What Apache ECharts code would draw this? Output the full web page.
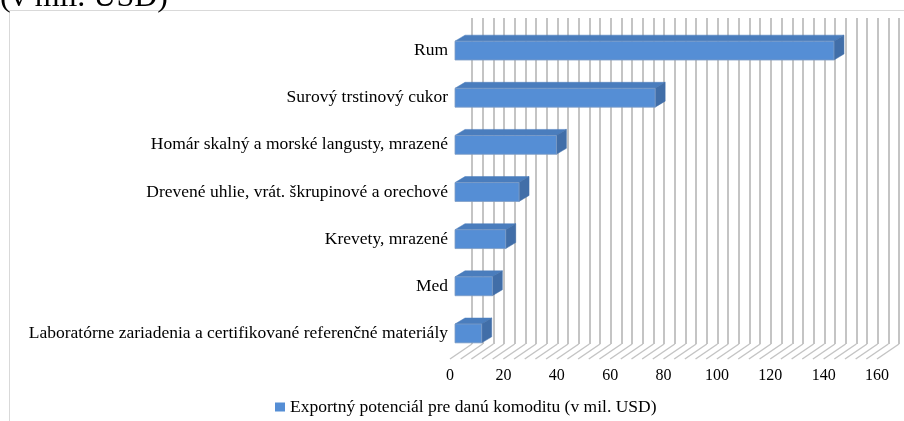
<!DOCTYPE html>
<html>
<head>
<meta charset="utf-8">
<script src="https://cdn.jsdelivr.net/npm/echarts@6/dist/echarts.min.js"></script>
<style>
  html, body { margin: 0; padding: 0; background: #fff; }
  #chart { width: 904px; height: 421px; }
</style>
</head>
<body>
<div id="chart"></div>
<script>
// ============ Exportný potenciál ============
const categories = [
  'Rum',
  'Surový trstinový cukor',
  'Homár skalný a morské langusty, mrazené',
  'Drevené uhlie, vrát. škrupinové a orechové',
  'Krevety, mrazené',
  'Med',
  'Laboratórne zariadenia a certifikované referenčné materiály'
];
const values = [142, 75, 38, 24, 19, 14, 10];
const seriesName = 'Exportný potenciál pre danú komoditu (v mil. USD)';
const axisMax = 160;
const majorStep = 20;
const minorStep = 4;

const FONT = '"Liberation Serif", "Times New Roman", serif';
const gridColor = '#c4c4c4';
const wallDepth = [22, -15];   // posun zadnej steny voči prednej hrane podlahy
const barDepth = [10, -6];     // hĺbka 3D stĺpca

const chart = echarts.init(document.getElementById('chart'));

function renderFloor(params, api) {
  const children = [];
  for (let v = 0; v <= axisMax; v += minorStep) {
    const p = api.coord([v, 0]);
    children.push({
      type: 'line',
      shape: { x1: p[0], y1: p[1], x2: p[0] + wallDepth[0], y2: p[1] + wallDepth[1] },
      style: { stroke: gridColor, lineWidth: 1.5 }
    });
  }
  return { type: 'group', children: children, silent: true };
}

function renderBar(params, api) {
  const idx = api.value(1);
  const p0 = api.coord([0, idx]);
  const p1 = api.coord([api.value(0), idx]);
  const h = api.size([0, 1])[1] * 0.4;
  const x0 = p0[0], x1 = p1[0];
  const yT = p0[1] - h / 2, yB = p0[1] + h / 2;
  const dx = barDepth[0], dy = barDepth[1];
  return {
    type: 'group',
    children: [
      { type: 'polygon', shape: { points: [[x0, yT], [x0 + dx, yT + dy], [x1 + dx, yT + dy], [x1, yT]] },
        style: { fill: '#4a7dbd', stroke: '#4a7dbd', lineWidth: 0.5 } },
      { type: 'polygon', shape: { points: [[x1, yT], [x1 + dx, yT + dy], [x1 + dx, yB + dy], [x1, yB]] },
        style: { fill: '#416ea8', stroke: '#416ea8', lineWidth: 0.5 } },
      { type: 'rect', shape: { x: x0, y: yT, width: x1 - x0, height: h },
        style: { fill: '#558ed5', stroke: '#7d9cc4', lineWidth: 0.8 } }
    ]
  };
}

chart.setOption({
  animation: false,
  title: {
    text: '(v mil. USD)', left: 0, top: -18, padding: 0,
    textStyle: { fontFamily: FONT, fontSize: 32, fontWeight: 'normal', color: '#000' }
  },
  graphic: [{
    type: 'rect', z: -10, silent: true,
    shape: { x: 9.5, y: 10.5, width: 1000, height: 1000 },
    style: { fill: 'none', stroke: '#d9d9d9', lineWidth: 1 }
  }],
  legend: {
    data: [seriesName], left: 275, top: 398, padding: 0,
    icon: 'rect', itemWidth: 10, itemHeight: 9, itemGap: 5,
    textStyle: { fontFamily: FONT, fontSize: 17.5, color: '#000' }
  },
  grid: [
    { left: 455, right: 22, top: 27, bottom: 64 },   // rovina stĺpcov
    { left: 450, right: 27, top: 33, bottom: 62 },   // predná hrana podlahy
    { left: 472, right: 5, top: 18, bottom: 77 }     // zadná stena
  ],
  xAxis: [
    { gridIndex: 0, type: 'value', min: 0, max: axisMax, show: false },
    { gridIndex: 1, type: 'value', min: 0, max: axisMax, interval: majorStep,
      axisLine: { show: false }, axisTick: { show: false }, splitLine: { show: false },
      axisLabel: { fontFamily: FONT, fontSize: 16, color: '#000', margin: 9 } },
    { gridIndex: 2, type: 'value', min: 0, max: axisMax, interval: minorStep,
      axisLine: { show: false }, axisTick: { show: false }, axisLabel: { show: false },
      splitLine: { show: true, lineStyle: { color: gridColor, width: 2 } } }
  ],
  yAxis: [
    { gridIndex: 0, type: 'category', data: categories, inverse: true,
      axisLine: { show: false }, axisTick: { show: false },
      axisLabel: { fontFamily: FONT, fontSize: 17.5, color: '#000', margin: 7 } },
    { gridIndex: 1, type: 'value', min: 0, max: 1, show: false },
    { gridIndex: 2, type: 'value', min: 0, max: 1, show: false }
  ],
  series: [
    { name: 'floor', type: 'custom', xAxisIndex: 1, yAxisIndex: 1,
      data: [[0, 0]], renderItem: renderFloor, z: 1 },
    { name: seriesName, type: 'custom', xAxisIndex: 0, yAxisIndex: 0,
      itemStyle: { color: '#558ed5' },
      data: values.map((v, i) => [v, i]), encode: { x: 0, y: 1 },
      renderItem: renderBar, z: 5 }
  ]
});
</script>
</body>
</html>
